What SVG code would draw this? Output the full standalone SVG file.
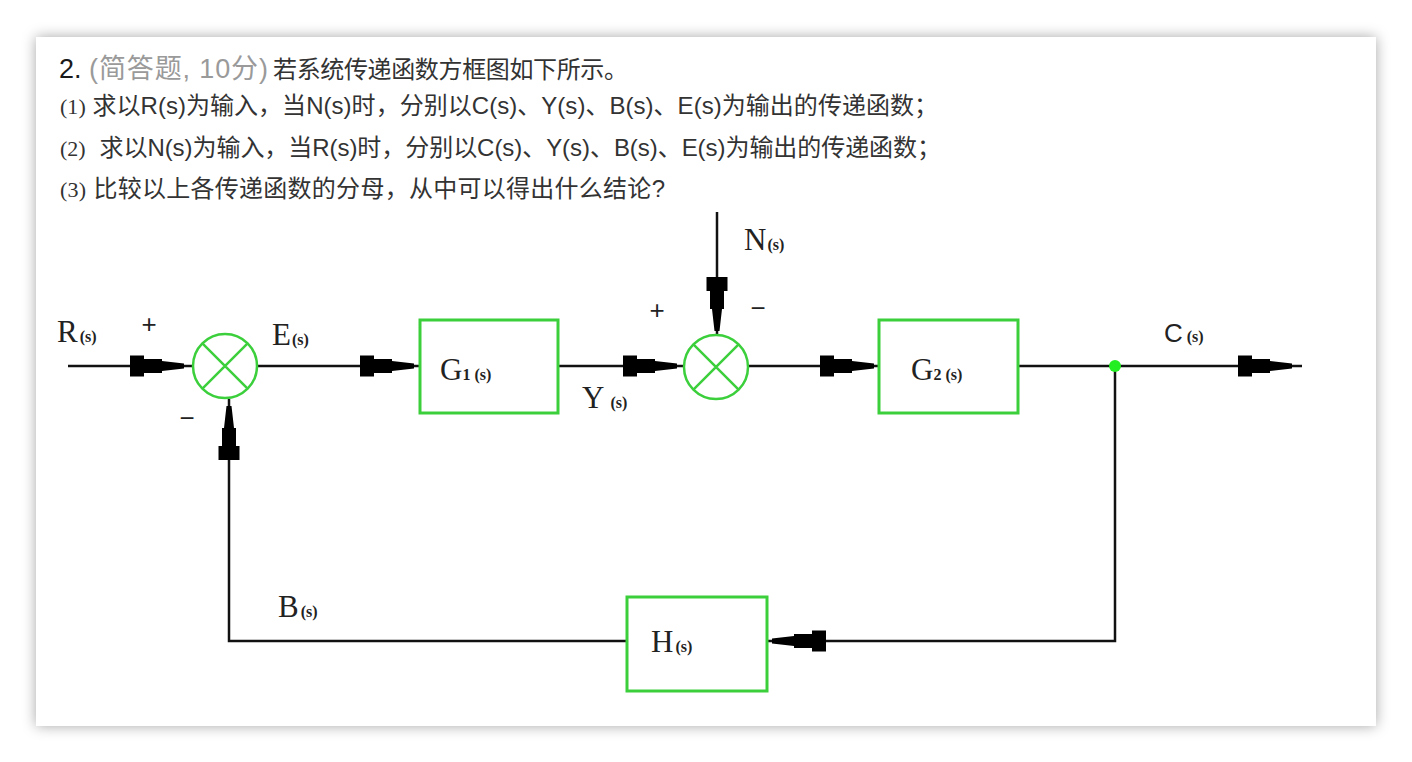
<svg xmlns="http://www.w3.org/2000/svg" width="1412" height="762" viewBox="0 0 1412 762">
<defs>
<filter id="sh" x="-5%" y="-5%" width="110%" height="110%">
<feDropShadow dx="0" dy="0" stdDeviation="7" flood-color="#000" flood-opacity="0.35"/>
</filter>
<path id="arr" d="M0,-2.5 L-22,-5 L-22,-7 L-40,-7 L-40,-10.5 L-54,-10.5 L-54,10.5 L-40,10.5 L-40,7 L-22,7 L-22,5 L0,2.5 Z" fill="#000"/>
<style>
.q{font-family:"Liberation Sans","Noto Sans CJK SC",sans-serif;font-size:24px;fill:#333}
.num{font-family:"Liberation Serif","Noto Sans CJK SC",serif;font-size:22px;fill:#333}
.lbl{font-family:"Liberation Serif",serif;font-size:31px;fill:#222}
.sub{font-family:"Liberation Serif",serif;font-size:16px;fill:#222;font-weight:bold}
.sgn{font-family:"Liberation Sans",sans-serif;font-size:26px;fill:#222}
.box{fill:#fff;stroke:#3ccf3c;stroke-width:3}
.sum{fill:#fff;stroke:#3ccf3c;stroke-width:2.5}
.ln{stroke:#111;stroke-width:2.5;fill:none}
</style>
</defs>
<rect x="0" y="0" width="1412" height="762" fill="#fff"/>
<rect x="36" y="37" width="1340" height="689" fill="#fff" filter="url(#sh)"/>

<g id="question">
<text x="59" y="78" class="q" style="font-size:27px;fill:#1a1a1a">2.</text>
<text x="89" y="78" class="q" style="font-size:27px;fill:#9a9a9a" textLength="179" lengthAdjust="spacing">(简答题, 10分)</text>
<text x="273" y="78" class="q" font-size="26" textLength="355" lengthAdjust="spacing">若系统传递函数方框图如下所示。</text>
<text x="60" y="114" class="q" textLength="878" lengthAdjust="spacing"><tspan class="num">(1)</tspan> 求以R(s)为输入，当N(s)时，分别以C(s)、Y(s)、B(s)、E(s)为输出的传递函数；</text>
<text x="60" y="156" class="q" textLength="881" lengthAdjust="spacing"><tspan class="num">(2)</tspan><tspan dx="14">求以N(s)为输入，当R(s)时，分别以C(s)、Y(s)、B(s)、E(s)为输出的传递函数；</tspan></text>
<text x="60" y="197" class="q" textLength="605" lengthAdjust="spacing"><tspan class="num">(3)</tspan> 比较以上各传递函数的分母，从中可以得出什么结论?</text>
</g>

<g id="connectors">
<path class="ln" d="M68,366 H193"/>
<path class="ln" d="M258,366 H420"/>
<path class="ln" d="M558,366 H683"/>
<path class="ln" d="M749,366 H879"/>
<path class="ln" d="M1019,366 H1302"/>
<path class="ln" d="M717,212 V334"/>
<path class="ln" d="M1115,366 V641 H767"/>
<path class="ln" d="M627,641 H229 V399"/>
<use href="#arr" transform="translate(184,366)"/>
<use href="#arr" transform="translate(414,366)"/>
<use href="#arr" transform="translate(677,366)"/>
<use href="#arr" transform="translate(874,366)"/>
<use href="#arr" transform="translate(1292,366)"/>
<use href="#arr" transform="translate(717,331) rotate(90)"/>
<use href="#arr" transform="translate(229,406) rotate(-90)"/>
<use href="#arr" transform="translate(772,641) rotate(180)"/>
<circle cx="1115" cy="366" r="6" fill="#22ee22"/>
</g>

<g id="sum1">
<circle class="sum" cx="225" cy="366" r="32"/>
<path d="M202.4,343.4 L247.6,388.6 M247.6,343.4 L202.4,388.6" stroke="#3ccf3c" stroke-width="2.5"/>
</g>
<g id="sum2">
<circle class="sum" cx="716" cy="367" r="32"/>
<path d="M693.4,344.4 L738.6,389.6 M738.6,344.4 L693.4,389.6" stroke="#3ccf3c" stroke-width="2.5"/>
</g>

<g id="G1">
<rect class="box" x="420" y="320" width="138" height="93"/>
<text x="440" y="380" class="lbl">G<tspan class="sub" font-size="13">1</tspan><tspan class="sub" dx="4">(s)</tspan></text>
</g>
<g id="G2">
<rect class="box" x="879" y="320" width="139" height="93"/>
<text x="911" y="380" class="lbl">G<tspan class="sub" font-size="13">2</tspan><tspan class="sub" dx="4">(s)</tspan></text>
</g>
<g id="H">
<rect class="box" x="627" y="597" width="140" height="94"/>
<text x="651" y="652" class="lbl">H<tspan class="sub" dx="2">(s)</tspan></text>
</g>

<g id="labels">
<text x="57" y="342" class="lbl">R<tspan class="sub" dx="2">(s)</tspan></text>
<text x="272" y="345" class="lbl">E<tspan class="sub" dx="1">(s)</tspan></text>
<text x="582" y="408" class="lbl">Y<tspan class="sub" dx="6">(s)</tspan></text>
<text x="744" y="250" class="lbl">N<tspan class="sub" dx="1">(s)</tspan></text>
<text x="278" y="617" class="lbl">B<tspan class="sub" dx="2">(s)</tspan></text>
<text x="1164" y="342" font-family="Liberation Sans,sans-serif" font-size="26" fill="#222">C<tspan class="sub" dx="4">(s)</tspan></text>
<text x="149" y="333" class="sgn" text-anchor="middle">+</text>
<text x="187" y="427" class="sgn" text-anchor="middle">−</text>
<text x="657" y="319" class="sgn" text-anchor="middle">+</text>
<text x="758" y="317" class="sgn" text-anchor="middle">−</text>
</g>
</svg>
